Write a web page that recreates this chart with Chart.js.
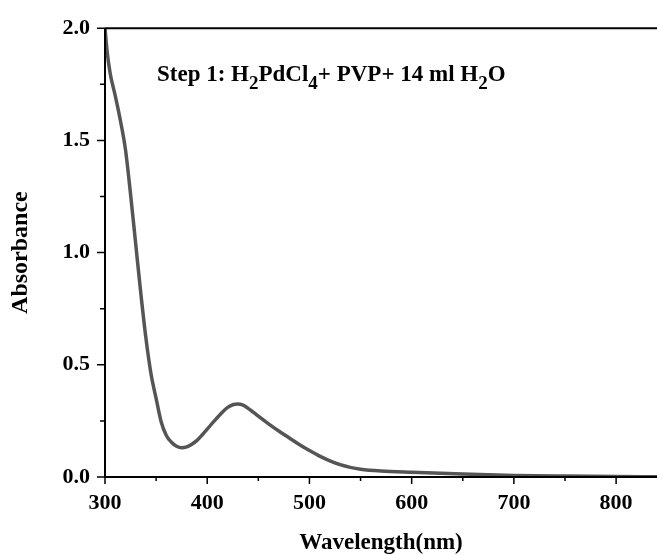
<!DOCTYPE html>
<html>
<head>
<meta charset="utf-8">
<script src="https://cdn.jsdelivr.net/npm/chart.js@4.4.1/dist/chart.umd.min.js"></script>
<style>
  html, body { margin: 0; padding: 0; background: #ffffff; }
  #wrap { width: 657px; height: 555px; position: relative; }
</style>
</head>
<body>
<div id="wrap"><canvas id="c" width="657" height="555"></canvas></div>
<script>
// ---- data ----
const wavelengths = [300, 302, 305, 310, 315, 320, 325, 330, 335, 340, 345, 350, 355, 360, 365, 370, 375, 380, 385, 390, 395, 400, 405, 410, 415, 420, 425, 430, 435, 440, 445, 450, 460, 470, 480, 490, 500, 510, 520, 530, 540, 550, 570, 600, 650, 700, 750, 800, 840];
const absorbance = [2.00, 1.90, 1.80, 1.70, 1.59, 1.46, 1.26, 1.04, 0.82, 0.62, 0.46, 0.35, 0.245, 0.185, 0.155, 0.137, 0.130, 0.134, 0.146, 0.163, 0.187, 0.213, 0.240, 0.265, 0.290, 0.310, 0.322, 0.325, 0.320, 0.306, 0.289, 0.271, 0.237, 0.205, 0.175, 0.145, 0.118, 0.093, 0.072, 0.055, 0.043, 0.035, 0.027, 0.021, 0.013, 0.007, 0.004, 0.002, 0.001];
const xMajorTicks = [300, 400, 500, 600, 700, 800];
const xMinorTicks = [350, 450, 550, 650, 750];
const yMajorTicks = [0.0, 0.5, 1.0, 1.5, 2.0];
const yMinorTicks = [0.25, 0.75, 1.25, 1.75];
const xTitle = "Wavelength(nm)";
const yTitle = "Absorbance";
// annotation pieces: [text, isSubscript]
const annotationParts = [["Step 1: H", false], ["2", true], ["PdCl", false], ["4", true], ["+ PVP+ 14 ml H", false], ["2", true], ["O", false]];

const FONT = "'Liberation Serif', 'Times New Roman', serif";

const points = wavelengths.map((w, i) => ({ x: w, y: absorbance[i] }));

const axisPlugin = {
  id: 'axisDecor',
  afterDraw(chart) {
    const ctx = chart.ctx;
    const xs = chart.scales.x, ys = chart.scales.y;
    const ca = chart.chartArea;
    ctx.save();
    ctx.strokeStyle = '#000';
    ctx.lineWidth = 2;
    ctx.lineCap = 'butt';
    ctx.beginPath();
    ctx.moveTo(ca.left, ca.top);
    ctx.lineTo(ca.left, ca.bottom);
    ctx.lineTo(ca.right, ca.bottom);
    ctx.moveTo(ca.left, ca.top);
    ctx.lineTo(ca.right, ca.top);
    ctx.stroke();
    ctx.lineWidth = 1.5;
    ctx.beginPath();
    xMajorTicks.forEach(v => { const p = xs.getPixelForValue(v); ctx.moveTo(p, ca.bottom); ctx.lineTo(p, ca.bottom + 7); });
    xMinorTicks.forEach(v => { const p = xs.getPixelForValue(v); ctx.moveTo(p, ca.bottom); ctx.lineTo(p, ca.bottom + 4); });
    yMajorTicks.forEach(v => { const p = ys.getPixelForValue(v); ctx.moveTo(ca.left, p); ctx.lineTo(ca.left - 8, p); });
    yMinorTicks.forEach(v => { const p = ys.getPixelForValue(v); ctx.moveTo(ca.left, p); ctx.lineTo(ca.left - 5, p); });
    ctx.stroke();
    let x = 157;
    const base = 81;
    ctx.fillStyle = '#000';
    ctx.textBaseline = 'alphabetic';
    ctx.textAlign = 'left';
    annotationParts.forEach(([t, sub]) => {
      ctx.font = 'bold ' + (sub ? 19 : 23) + 'px ' + FONT;
      ctx.fillText(t, x, sub ? base + 8 : base);
      x += ctx.measureText(t).width;
    });
    ctx.restore();
  }
};

new Chart(document.getElementById('c'), {
  type: 'line',
  data: {
    datasets: [{
      data: points,
      borderColor: '#555555',
      borderWidth: 3.5,
      pointRadius: 0,
      cubicInterpolationMode: 'monotone',
      fill: false
    }]
  },
  options: {
    responsive: false,
    animation: false,
    devicePixelRatio: 1,
    layout: { padding: { left: 0, right: 0, top: 23, bottom: 0 } },
    plugins: { legend: { display: false }, tooltip: { enabled: false } },
    scales: {
      x: {
        type: 'linear',
        min: 300, max: 840,
        afterBuildTicks: (s) => { s.ticks = xMajorTicks.map(v => ({ value: v })); },
        afterFit: (s) => { s.height = 78; },
        grid: { display: false, drawTicks: false },
        border: { display: false },
        ticks: {
          color: '#000', padding: 13, maxRotation: 0, autoSkip: false,
          font: { family: FONT, size: 22, weight: 'bold' },
          callback: (v) => String(v)
        },
        title: {
          display: true, text: xTitle, color: '#000',
          font: { family: FONT, size: 23, weight: 'bold' },
          padding: { top: 4, bottom: -2 }
        }
      },
      y: {
        type: 'linear',
        min: 0, max: 2.0,
        afterBuildTicks: (s) => { s.ticks = yMajorTicks.map(v => ({ value: v })); },
        afterFit: (s) => { s.width = 105; },
        grid: { display: false, drawTicks: false },
        border: { display: false },
        ticks: {
          color: '#000', padding: 15,
          font: { family: FONT, size: 22, weight: 'bold' },
          callback: (v) => Number(v).toFixed(1)
        },
        title: {
          display: true, text: yTitle, color: '#000',
          font: { family: FONT, size: 24, weight: 'bold' },
          padding: { top: 6, bottom: 0 }
        }
      }
    }
  },
  plugins: [axisPlugin]
});
</script>
</body>
</html>
